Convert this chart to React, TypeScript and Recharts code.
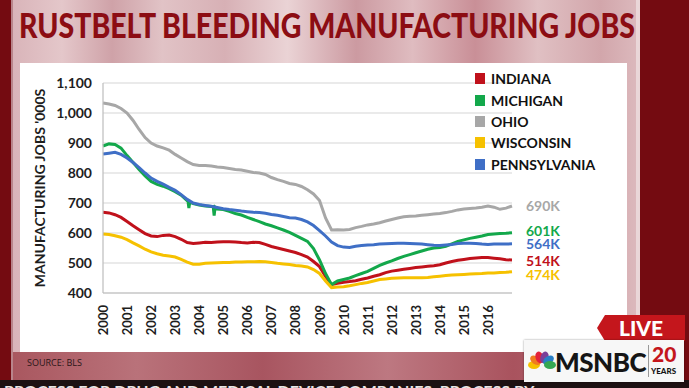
import { LineChart, Line, XAxis, YAxis, CartesianGrid, Legend } from "recharts";

// quarterly sample points, manufacturing jobs in thousands
const quarters = [
  2000, 2000.25, 2000.5, 2000.75, 2001, 2001.25, 2001.5, 2001.75,
  2002, 2002.25, 2002.5, 2002.75, 2003, 2003.25, 2003.5, 2003.75,
  2004, 2004.25, 2004.5, 2004.75, 2005, 2005.25, 2005.5, 2005.75,
  2006, 2006.25, 2006.5, 2006.75, 2007, 2007.25, 2007.5, 2007.75,
  2008, 2008.25, 2008.5, 2008.75, 2009, 2009.25, 2009.5, 2009.75,
  2010, 2010.25, 2010.5, 2010.75, 2011, 2011.25, 2011.5, 2011.75,
  2012, 2012.25, 2012.5, 2012.75, 2013, 2013.25, 2013.5, 2013.75,
  2014, 2014.25, 2014.5, 2014.75, 2015, 2015.25, 2015.5, 2015.75,
  2016, 2016.25, 2016.5, 2016.75, 2017,
];

const indianaJobs = [
  669, 667, 661, 652, 638, 624, 611, 598,
  590, 588, 592, 593, 588, 579, 568, 565,
  567, 569, 568, 570, 571, 571, 570, 568,
  567, 569, 568, 562, 555, 550, 545, 540,
  535, 528, 520, 505, 488, 455, 428, 432,
  436, 438, 441, 446, 450, 456, 461, 468,
  473, 476, 479, 482, 485, 487, 489, 491,
  494, 500, 505, 509, 512, 515, 517, 518,
  518, 516, 514, 511, 510,
];

const michiganJobs = [
  890, 897, 895, 883, 858, 835, 812, 790,
  772, 762, 756, 748, 738, 726, 708, 698,
  693, 690, 688, 680, 678, 672, 665, 660,
  652, 645, 638, 630, 624, 617, 610, 602,
  592, 582, 572, 548, 510, 465, 428, 440,
  445, 450, 458, 465, 472, 482, 492, 500,
  507, 515, 522, 528, 534, 540, 546, 550,
  552, 556, 564, 572, 577, 582, 586, 590,
  595, 597, 598, 599, 601,
];

// summer shutdown dips in the Michigan series
const michiganDipYears = [2003.53, 2003.57, 2003.61, 2004.58, 2004.62, 2004.66];
const michiganDipJobs = [707, 683, 703, 688, 658, 686];

const ohioJobs = [
  1033, 1030, 1025, 1015, 1000, 975, 945, 918,
  900, 890, 884, 876, 862, 850, 838, 828,
  825, 825, 823, 820, 818, 815, 812, 810,
  806, 802, 800, 795, 785, 778, 772, 765,
  762, 755, 744, 730, 708, 650, 610, 611,
  610, 612, 618, 622, 627, 630, 634, 640,
  645, 650, 654, 656, 657, 659, 661, 663,
  665, 668, 672, 677, 680, 682, 683, 686,
  690, 686, 679, 683, 690,
];

const wisconsinJobs = [
  597, 595, 591, 586, 578, 567, 557, 546,
  537, 531, 526, 523, 520, 512, 503, 496,
  496, 499, 500, 501, 502, 502, 503, 503,
  504, 504, 505, 504, 502, 499, 497, 495,
  492, 490, 487, 478, 465, 440, 418, 420,
  421, 424, 428, 432, 435, 440, 445, 447,
  449, 450, 451, 451, 451, 451, 452, 454,
  456, 458, 460, 461, 462, 463, 464, 465,
  467, 467, 468, 469, 471,
];

const pennsylvaniaJobs = [
  863, 866, 869, 862, 850, 835, 818, 800,
  783, 772, 763, 752, 742, 728, 712, 700,
  695, 692, 689, 685, 681, 678, 676, 673,
  671, 669, 668, 666, 662, 659, 655, 651,
  650, 645, 637, 625, 608, 590, 570, 558,
  553, 552, 556, 558, 560, 561, 563, 564,
  565, 566, 566, 565, 564, 563, 561, 559,
  558, 560, 562, 565, 566, 566, 565, 563,
  562, 563, 563, 563, 564,
];

const seriesKeys = ["indiana", "michigan", "ohio", "wisconsin", "pennsylvania"];
const seriesNames = ["INDIANA", "MICHIGAN", "OHIO", "WISCONSIN", "PENNSYLVANIA"];
const seriesColors = ["#c0111b", "#13a84b", "#a7a7a7", "#f6c100", "#3f6fc6"];
const endLabels = ["514K", "601K", "690K", "474K", "564K"];
const endLabelNudge = [0, -2, -1, 3, 0];

const yearTicks = [
  2000, 2001, 2002, 2003, 2004, 2005, 2006, 2007, 2008,
  2009, 2010, 2011, 2012, 2013, 2014, 2015, 2016,
];
const jobTicks = [400, 500, 600, 700, 800, 900, 1000, 1100];

const chartData = [
  ...quarters.map((year, i) => ({
    year,
    indiana: indianaJobs[i],
    michigan: michiganJobs[i],
    ohio: ohioJobs[i],
    wisconsin: wisconsinJobs[i],
    pennsylvania: pennsylvaniaJobs[i],
  })),
  ...michiganDipYears.map((year, i) => ({ year, michigan: michiganDipJobs[i] })),
].sort((a, b) => a.year - b.year);

const FONT = "Lato, 'Open Sans', sans-serif";

function YearTick({ x, y, payload }: any) {
  return (
    <text
      x={x}
      y={y}
      transform={`rotate(-90 ${x} ${y})`}
      textAnchor="end"
      dominantBaseline="central"
      fontFamily={FONT}
      fontWeight={700}
      fontSize={13}
      fill="#1e1e1e"
    >
      {payload.value}
    </text>
  );
}

function renderAxisTitle(props: any) {
  const vb = props.viewBox;
  const cx = vb.x + 19;
  const cy = vb.y + vb.height / 2;
  return (
    <text
      x={cx}
      y={cy}
      transform={`rotate(-90 ${cx} ${cy})`}
      textAnchor="middle"
      dominantBaseline="central"
      fontFamily={FONT}
      fontWeight={700}
      fontSize={14}
      fill="#1e1e1e"
    >
      MANUFACTURING JOBS '000S
    </text>
  );
}

// keep the legend in series order (recharts sorts it by name otherwise)
function renderLegend(props: any) {
  const items = [...(props.payload || [])].sort(
    (a: any, b: any) => seriesNames.indexOf(a.value) - seriesNames.indexOf(b.value)
  );
  return (
    <div style={{ fontFamily: FONT }}>
      {items.map((entry: any) => (
        <div
          key={entry.value}
          style={{ display: "flex", alignItems: "center", height: 21.4 }}
        >
          <span
            style={{
              display: "inline-block",
              width: 10,
              height: 11,
              background: entry.color,
              marginRight: 6,
            }}
          />
          <span style={{ fontSize: 14, fontWeight: 700, color: "#111" }}>
            {entry.value}
          </span>
        </div>
      ))}
    </div>
  );
}

function makeEndLabel(i: number) {
  return (props: any) => {
    const { x, y, index } = props;
    if (index !== chartData.length - 1) return null;
    return (
      <text
        x={x + 14}
        y={y + endLabelNudge[i]}
        dominantBaseline="central"
        fontFamily={FONT}
        fontWeight={700}
        fontSize={14}
        fill={seriesColors[i]}
      >
        {endLabels[i]}
      </text>
    );
  };
}

function MsnbcBug() {
  const peacock = ["#f6c100", "#f07c1e", "#e3223a", "#7b3f98", "#2a7fc5", "#36a852"];
  return (
    <>
      <div
        style={{
          position: "absolute",
          left: 597,
          top: 315,
          width: 88,
          height: 26,
          background: "#c4161c",
          clipPath: "polygon(8px 0, 100% 0, 100% 100%, 8px 100%, 0 50%)",
          color: "#fff",
          fontFamily: FONT,
          fontWeight: 900,
          fontSize: 21,
          lineHeight: "26px",
          textAlign: "center",
        }}
      >
        LIVE
      </div>
      <div
        style={{
          position: "absolute",
          left: 524,
          top: 340,
          width: 160,
          height: 42,
          background: "#f7f7f7",
          boxShadow: "0 0 2px rgba(0,0,0,0.4)",
        }}
      >
        <svg width={30} height={22} style={{ position: "absolute", left: 3, top: 10 }}>
          {peacock.map((c, i) => {
            const px = 15 + Math.cos(Math.PI * (1 - i / 5)) * 8;
            const py = 15 - Math.sin(Math.PI * (1 - i / 5)) * 8;
            return (
              <ellipse
                key={c}
                cx={px}
                cy={py}
                rx={4}
                ry={6}
                fill={c}
                transform={`rotate(${(i - 2.5) * 36} ${px} ${py})`}
              />
            );
          })}
        </svg>
        <div
          style={{
            position: "absolute",
            left: 31,
            top: 6,
            fontFamily: FONT,
            fontWeight: 900,
            fontSize: 26,
            letterSpacing: -0.5,
            color: "#151515",
          }}
        >
          MSNBC
        </div>
        <div
          style={{
            position: "absolute",
            left: 124,
            top: 5,
            width: 1,
            height: 32,
            background: "#999",
          }}
        />
        <div
          style={{
            position: "absolute",
            left: 128,
            top: 1,
            fontFamily: FONT,
            fontWeight: 900,
            fontSize: 21,
            color: "#c4161c",
          }}
        >
          20
        </div>
        <div
          style={{
            position: "absolute",
            left: 127,
            top: 26,
            fontFamily: FONT,
            fontWeight: 900,
            fontSize: 8,
            color: "#151515",
          }}
        >
          YEARS
        </div>
      </div>
    </>
  );
}

export default function App() {
  return (
    <div
      style={{
        position: "absolute",
        left: 0,
        top: 0,
        width: 689,
        height: 388,
        overflow: "hidden",
        background: "#740b11",
      }}
    >
      {/* pink studio backdrop */}
      <div
        style={{
          position: "absolute",
          left: 12,
          top: 0,
          width: 626,
          height: 380,
          background:
            "linear-gradient(90deg, #d9b4b9 0%, #e4c7ca 8%, #cfa2a8 16%, #e1c3c6 24%, #d7b0b5 34%, #ead3d5 44%, #cc9aa1 55%, #dfbcc0 64%, #c98f97 74%, #e0c0c3 84%, #d2a6ab 94%, #dcb9bd 100%)",
        }}
      />
      <div
        style={{
          position: "absolute",
          left: 12,
          top: 352,
          width: 626,
          height: 28,
          background:
            "linear-gradient(90deg, #a9575f 0%, #b9727a 20%, #a85560 40%, #bd7881 60%, #a9535e 80%, #b46a72 100%)",
        }}
      />
      <div style={{ position: "absolute", left: 636, top: 0, width: 4, height: 380, background: "#ead6d8" }} />
      <div style={{ position: "absolute", left: 11, top: 0, width: 2, height: 380, background: "#b9858b" }} />

      <svg width={1000} height={60} style={{ position: "absolute", left: 0, top: 0 }}>
        <text
          x={19}
          y={38}
          textLength={616}
          lengthAdjust="spacingAndGlyphs"
          fontFamily={FONT}
          fontWeight={900}
          fontSize={35}
          fill="#8c0d13"
        >
          RUSTBELT BLEEDING MANUFACTURING JOBS
        </text>
      </svg>

      <div
        style={{
          position: "absolute",
          left: 20,
          top: 63,
          width: 607,
          height: 289,
          background: "#ffffff",
        }}
      >
        <LineChart
          width={607}
          height={289}
          data={chartData}
          margin={{ top: 20, right: 115, bottom: 0, left: 0 }}
        >
          <CartesianGrid vertical={false} stroke="#d6d6d6" strokeWidth={1.2} />
          <XAxis
            dataKey="year"
            type="number"
            domain={[2000, 2017]}
            ticks={yearTicks}
            interval={0}
            height={59}
            tickLine={false}
            tickSize={0}
            tickMargin={12}
            axisLine={{ stroke: "#bdbdbd", strokeWidth: 1.2 }}
            tick={<YearTick />}
          />
          <YAxis
            type="number"
            domain={[400, 1100]}
            ticks={jobTicks}
            interval={0}
            width={83}
            tickLine={false}
            tickSize={0}
            tickMargin={11}
            axisLine={{ stroke: "#bdbdbd", strokeWidth: 1.2 }}
            tickFormatter={(v: number) => v.toLocaleString("en-US")}
            tick={{ fontFamily: FONT, fontWeight: 700, fontSize: 14, fill: "#1e1e1e" }}
            label={renderAxisTitle}
          />
          <Legend
            layout="vertical"
            align="center"
            verticalAlign="middle"
            wrapperStyle={{ left: 455, top: 5, width: 150 }}
            content={renderLegend}
          />
          {seriesKeys.map((key, i) => (
            <Line
              key={key}
              type="linear"
              dataKey={key}
              name={seriesNames[i]}
              stroke={seriesColors[i]}
              strokeWidth={3}
              dot={false}
              connectNulls
              isAnimationActive={false}
              label={makeEndLabel(i)}
            />
          ))}
        </LineChart>
      </div>

      <div
        style={{
          position: "absolute",
          left: 27,
          top: 356,
          fontFamily: "'Open Sans', sans-serif",
          fontSize: 9,
          color: "#2b1618",
        }}
      >
        SOURCE: BLS
      </div>

      {/* ticker strip cut off at the bottom edge */}
      <div
        style={{
          position: "absolute",
          left: 0,
          top: 380,
          width: 689,
          height: 8,
          background: "#1d1112",
          overflow: "hidden",
        }}
      >
        <div
          style={{
            position: "absolute",
            left: 4,
            top: 1,
            whiteSpace: "nowrap",
            fontFamily: FONT,
            fontWeight: 700,
            fontSize: 16,
            color: "#e9e4e4",
          }}
        >
          PROCESS FOR DRUG AND MEDICAL DEVICE COMPANIES, PROCESS BY
        </div>
      </div>

      <MsnbcBug />
    </div>
  );
}
